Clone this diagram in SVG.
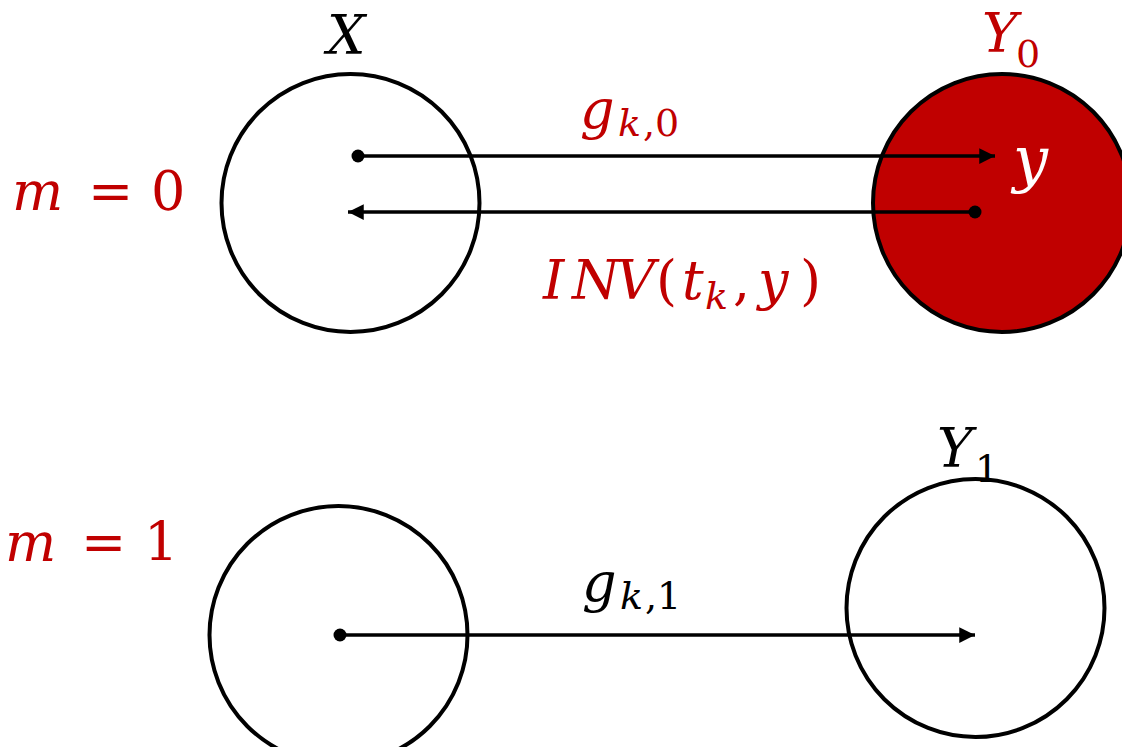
<svg xmlns="http://www.w3.org/2000/svg" width="1122" height="747" viewBox="0 0 1122 747">
<style>
.c{fill:#fff;stroke:#000;stroke-width:4}
.l{stroke:#000;stroke-width:3.5;fill:none}
.t{font-family:"DejaVu Serif","Liberation Serif",serif;font-style:italic;font-size:54px}
.n{font-style:normal}
.s{font-size:38px}
.red{fill:#C00000}
</style>
<defs>
<marker id="ah" viewBox="0 0 10 10" refX="10" refY="5" markerWidth="4.5" markerHeight="5" markerUnits="strokeWidth" orient="auto"><path d="M0,0 L10,5 L0,10 Z" fill="#000"/></marker>
</defs>
<rect width="1122" height="747" fill="#fff"/>
<g id="X"><circle class="c" cx="350.5" cy="203" r="129"/><text class="t" x="327" y="54">X</text></g>
<g id="Y0"><circle class="c" cx="1002" cy="203" r="129" style="fill:#C00000"/><text class="t red" x="982" y="52">Y</text><text class="t n s red" x="1016" y="67">0</text><text class="t" x="1013" y="180" fill="#fff" style="font-size:62px">y</text></g>
<g id="X1"><circle class="c" cx="338.5" cy="635" r="129"/></g>
<g id="Y1"><circle class="c" cx="975.5" cy="608" r="129"/><text class="t" x="937" y="467">Y</text><text class="t n s" x="975" y="482">1</text></g>
<g id="labels">
<text class="t red" x="12" y="210">m<tspan class="n" x="88">=</tspan><tspan class="n" x="151">0</tspan></text>
<text class="t red" x="5" y="561">m<tspan class="n" x="81">=</tspan><tspan class="n" x="144">1</tspan></text>
</g>
<g id="connectors">
<circle cx="358" cy="156" r="6.5"/>
<line class="l" x1="358" y1="156" x2="995" y2="156" marker-end="url(#ah)"/>
<text class="t red" x="580" y="128">g<tspan class="s" x="618" y="136">k</tspan><tspan class="n s" x="643">,0</tspan></text>
<circle cx="975" cy="212" r="6.5"/>
<line class="l" x1="975" y1="212" x2="348" y2="212" marker-end="url(#ah)"/>
<text class="t red" x="543" y="299">I<tspan x="572">N</tspan><tspan x="616">V</tspan><tspan class="n" x="656">(</tspan><tspan x="682">t</tspan><tspan class="s" x="705" y="309">k</tspan><tspan class="n" x="733" y="299">,</tspan><tspan x="758">y</tspan><tspan class="n" x="800">)</tspan></text>
<circle cx="340" cy="635" r="6.5"/>
<line class="l" x1="340" y1="635" x2="975" y2="635" marker-end="url(#ah)"/>
<text class="t" x="582" y="601">g<tspan class="s" x="620" y="609">k</tspan><tspan class="n s" x="645">,1</tspan></text>
</g>
</svg>
